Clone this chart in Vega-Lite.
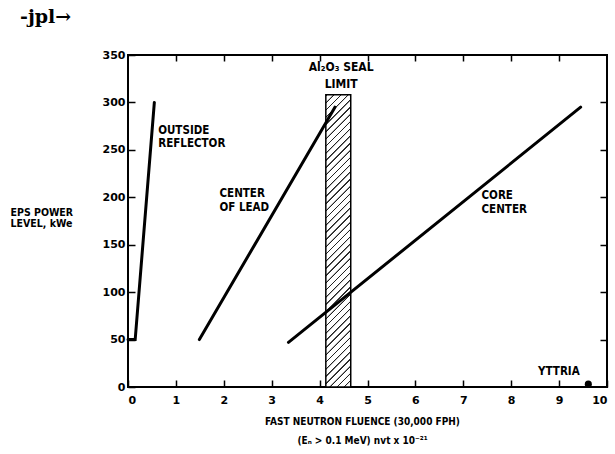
{
  "$schema": "https://vega.github.io/schema/vega-lite/v6.json",
  "width": 479,
  "height": 332,
  "autosize": {"type": "none"},
  "padding": {"left": 128, "top": 55, "right": 8, "bottom": 67},
  "background": "white",
  "title": {"text": "-jpl→", "anchor": "start", "frame": "group", "dx": -108, "offset": 22, "fontSize": 19, "fontWeight": "bold", "font": "DejaVu Serif", "color": "black"},
  "config": {
    "view": {"stroke": "black", "strokeWidth": 2},
    "axis": {"grid": false, "labelFont": "DejaVu Sans", "labelFontWeight": "bold", "labelFontSize": 11, "labelColor": "black", "tickColor": "black", "tickWidth": 1.5, "domainColor": "black", "domainWidth": 2, "titleColor": "black", "titleFont": "Liberation Sans Narrow, DejaVu Sans Condensed, sans-serif", "titleFontWeight": "bold"}
  },
  "datasets": {
    "lines": [
      {"series": "outside", "i": 0, "x": 0.0, "y": 50},
      {"series": "outside", "i": 1, "x": 0.15, "y": 50},
      {"series": "outside", "i": 2, "x": 0.55, "y": 300},
      {"series": "lead", "i": 0, "x": 1.49, "y": 50},
      {"series": "lead", "i": 1, "x": 4.32, "y": 295},
      {"series": "core", "i": 0, "x": 3.35, "y": 47},
      {"series": "core", "i": 1, "x": 9.45, "y": 295}
    ],
    "seal": [{"x1": 4.13, "x2": 4.65, "y1": 0, "y2": 308}],
    "dot": [{"x": 9.61, "y": 3}],
    "labels": [
      {"label": "OUTSIDE\nREFLECTOR", "x": 0.63, "y": 270},
      {"label": "CENTER\nOF LEAD", "x": 1.91, "y": 203},
      {"label": "CORE\nCENTER", "x": 7.38, "y": 201},
      {"label": "YTTRIA", "x": 8.56, "y": 16}
    ],
    "seallabel": [{"label": "Al₂O₃ SEAL\nLIMIT", "x": 4.45, "y": 337}]
  },
  "layer": [
    {
      "data": {"name": "seal"},
      "mark": {"type": "rect", "stroke": "black", "strokeWidth": 1.5,
        "fill": {"gradient": "linear", "x1": 0, "y1": 0, "x2": 0.0923, "y2": 1.0777, "stops": [
          {"offset": 0, "color": "#fff"}, {"offset": 0.0015, "color": "#222"}, {"offset": 0.0045, "color": "#222"}, {"offset": 0.006, "color": "#fff"},
          {"offset": 0.0227, "color": "#fff"}, {"offset": 0.0242, "color": "#222"}, {"offset": 0.0272, "color": "#222"}, {"offset": 0.0287, "color": "#fff"},
          {"offset": 0.0454, "color": "#fff"}, {"offset": 0.0469, "color": "#222"}, {"offset": 0.0499, "color": "#222"}, {"offset": 0.0514, "color": "#fff"},
          {"offset": 0.0681, "color": "#fff"}, {"offset": 0.0696, "color": "#222"}, {"offset": 0.0726, "color": "#222"}, {"offset": 0.0741, "color": "#fff"},
          {"offset": 0.0908, "color": "#fff"}, {"offset": 0.0923, "color": "#222"}, {"offset": 0.0953, "color": "#222"}, {"offset": 0.0968, "color": "#fff"},
          {"offset": 0.1135, "color": "#fff"}, {"offset": 0.115, "color": "#222"}, {"offset": 0.118, "color": "#222"}, {"offset": 0.1195, "color": "#fff"},
          {"offset": 0.1362, "color": "#fff"}, {"offset": 0.1377, "color": "#222"}, {"offset": 0.1407, "color": "#222"}, {"offset": 0.1422, "color": "#fff"},
          {"offset": 0.1589, "color": "#fff"}, {"offset": 0.1604, "color": "#222"}, {"offset": 0.1634, "color": "#222"}, {"offset": 0.1649, "color": "#fff"},
          {"offset": 0.1816, "color": "#fff"}, {"offset": 0.1831, "color": "#222"}, {"offset": 0.1861, "color": "#222"}, {"offset": 0.1876, "color": "#fff"},
          {"offset": 0.2043, "color": "#fff"}, {"offset": 0.2058, "color": "#222"}, {"offset": 0.2088, "color": "#222"}, {"offset": 0.2103, "color": "#fff"},
          {"offset": 0.227, "color": "#fff"}, {"offset": 0.2285, "color": "#222"}, {"offset": 0.2315, "color": "#222"}, {"offset": 0.233, "color": "#fff"},
          {"offset": 0.2497, "color": "#fff"}, {"offset": 0.2512, "color": "#222"}, {"offset": 0.2542, "color": "#222"}, {"offset": 0.2557, "color": "#fff"},
          {"offset": 0.2724, "color": "#fff"}, {"offset": 0.2739, "color": "#222"}, {"offset": 0.2769, "color": "#222"}, {"offset": 0.2784, "color": "#fff"},
          {"offset": 0.2951, "color": "#fff"}, {"offset": 0.2966, "color": "#222"}, {"offset": 0.2996, "color": "#222"}, {"offset": 0.3011, "color": "#fff"},
          {"offset": 0.3178, "color": "#fff"}, {"offset": 0.3193, "color": "#222"}, {"offset": 0.3223, "color": "#222"}, {"offset": 0.3238, "color": "#fff"},
          {"offset": 0.3405, "color": "#fff"}, {"offset": 0.342, "color": "#222"}, {"offset": 0.345, "color": "#222"}, {"offset": 0.3465, "color": "#fff"},
          {"offset": 0.3632, "color": "#fff"}, {"offset": 0.3647, "color": "#222"}, {"offset": 0.3677, "color": "#222"}, {"offset": 0.3692, "color": "#fff"},
          {"offset": 0.3859, "color": "#fff"}, {"offset": 0.3874, "color": "#222"}, {"offset": 0.3904, "color": "#222"}, {"offset": 0.3919, "color": "#fff"},
          {"offset": 0.4086, "color": "#fff"}, {"offset": 0.4101, "color": "#222"}, {"offset": 0.4131, "color": "#222"}, {"offset": 0.4146, "color": "#fff"},
          {"offset": 0.4313, "color": "#fff"}, {"offset": 0.4328, "color": "#222"}, {"offset": 0.4358, "color": "#222"}, {"offset": 0.4373, "color": "#fff"},
          {"offset": 0.454, "color": "#fff"}, {"offset": 0.4555, "color": "#222"}, {"offset": 0.4585, "color": "#222"}, {"offset": 0.46, "color": "#fff"},
          {"offset": 0.4767, "color": "#fff"}, {"offset": 0.4782, "color": "#222"}, {"offset": 0.4812, "color": "#222"}, {"offset": 0.4827, "color": "#fff"},
          {"offset": 0.4994, "color": "#fff"}, {"offset": 0.5009, "color": "#222"}, {"offset": 0.5039, "color": "#222"}, {"offset": 0.5054, "color": "#fff"},
          {"offset": 0.5221, "color": "#fff"}, {"offset": 0.5236, "color": "#222"}, {"offset": 0.5266, "color": "#222"}, {"offset": 0.5281, "color": "#fff"},
          {"offset": 0.5448, "color": "#fff"}, {"offset": 0.5463, "color": "#222"}, {"offset": 0.5493, "color": "#222"}, {"offset": 0.5508, "color": "#fff"},
          {"offset": 0.5675, "color": "#fff"}, {"offset": 0.569, "color": "#222"}, {"offset": 0.572, "color": "#222"}, {"offset": 0.5735, "color": "#fff"},
          {"offset": 0.5902, "color": "#fff"}, {"offset": 0.5917, "color": "#222"}, {"offset": 0.5947, "color": "#222"}, {"offset": 0.5962, "color": "#fff"},
          {"offset": 0.6129, "color": "#fff"}, {"offset": 0.6144, "color": "#222"}, {"offset": 0.6174, "color": "#222"}, {"offset": 0.6189, "color": "#fff"},
          {"offset": 0.6356, "color": "#fff"}, {"offset": 0.6371, "color": "#222"}, {"offset": 0.6401, "color": "#222"}, {"offset": 0.6416, "color": "#fff"},
          {"offset": 0.6583, "color": "#fff"}, {"offset": 0.6598, "color": "#222"}, {"offset": 0.6628, "color": "#222"}, {"offset": 0.6643, "color": "#fff"},
          {"offset": 0.681, "color": "#fff"}, {"offset": 0.6825, "color": "#222"}, {"offset": 0.6855, "color": "#222"}, {"offset": 0.687, "color": "#fff"},
          {"offset": 0.7037, "color": "#fff"}, {"offset": 0.7052, "color": "#222"}, {"offset": 0.7082, "color": "#222"}, {"offset": 0.7097, "color": "#fff"},
          {"offset": 0.7264, "color": "#fff"}, {"offset": 0.7279, "color": "#222"}, {"offset": 0.7309, "color": "#222"}, {"offset": 0.7324, "color": "#fff"},
          {"offset": 0.7491, "color": "#fff"}, {"offset": 0.7506, "color": "#222"}, {"offset": 0.7536, "color": "#222"}, {"offset": 0.7551, "color": "#fff"},
          {"offset": 0.7718, "color": "#fff"}, {"offset": 0.7733, "color": "#222"}, {"offset": 0.7763, "color": "#222"}, {"offset": 0.7778, "color": "#fff"},
          {"offset": 0.7945, "color": "#fff"}, {"offset": 0.796, "color": "#222"}, {"offset": 0.799, "color": "#222"}, {"offset": 0.8005, "color": "#fff"},
          {"offset": 0.8172, "color": "#fff"}, {"offset": 0.8187, "color": "#222"}, {"offset": 0.8217, "color": "#222"}, {"offset": 0.8232, "color": "#fff"},
          {"offset": 0.8399, "color": "#fff"}, {"offset": 0.8414, "color": "#222"}, {"offset": 0.8444, "color": "#222"}, {"offset": 0.8459, "color": "#fff"},
          {"offset": 0.8626, "color": "#fff"}, {"offset": 0.8641, "color": "#222"}, {"offset": 0.8671, "color": "#222"}, {"offset": 0.8686, "color": "#fff"},
          {"offset": 0.8853, "color": "#fff"}, {"offset": 0.8868, "color": "#222"}, {"offset": 0.8898, "color": "#222"}, {"offset": 0.8913, "color": "#fff"},
          {"offset": 0.908, "color": "#fff"}, {"offset": 0.9095, "color": "#222"}, {"offset": 0.9125, "color": "#222"}, {"offset": 0.914, "color": "#fff"},
          {"offset": 0.9307, "color": "#fff"}, {"offset": 0.9322, "color": "#222"}, {"offset": 0.9352, "color": "#222"}, {"offset": 0.9367, "color": "#fff"},
          {"offset": 0.9534, "color": "#fff"}, {"offset": 0.9549, "color": "#222"}, {"offset": 0.9579, "color": "#222"}, {"offset": 0.9594, "color": "#fff"},
          {"offset": 0.9761, "color": "#fff"}, {"offset": 0.9776, "color": "#222"}, {"offset": 0.9806, "color": "#222"}, {"offset": 0.9821, "color": "#fff"},
          {"offset": 1, "color": "#fff"}
        ]}},
      "encoding": {
        "x": {"field": "x1", "type": "quantitative", "scale": {"domain": [0, 10], "nice": false}, "axis": {"orient": "top", "values": [1, 2, 3, 4, 5, 6, 7, 8, 9], "tickSize": -6, "labels": false, "domain": false, "title": null}},
        "x2": {"field": "x2"},
        "y": {"field": "y1", "type": "quantitative", "scale": {"domain": [0, 350], "nice": false}, "axis": {"orient": "right", "values": [50, 100, 150, 200, 250, 300], "tickSize": -7, "labels": false, "domain": false, "title": null}},
        "y2": {"field": "y2"}
      }
    },
    {
      "data": {"name": "lines"},
      "mark": {"type": "line", "color": "black", "strokeWidth": 3, "strokeCap": "round"},
      "encoding": {
        "x": {"field": "x", "type": "quantitative", "axis": {"orient": "bottom", "values": [0, 1, 2, 3, 4, 5, 6, 7, 8, 9, 10], "tickSize": -7, "labelPadding": 14, "domain": false,
          "title": ["FAST NEUTRON FLUENCE (30,000 FPH)", "(Eₙ > 0.1 MeV) nvt x 10⁻²¹"], "titleFontSize": 10, "titleLineHeight": 19, "titleAnchor": "start", "titleAlign": "center", "titleX": 234, "titleY": 29, "titleBaseline": "top"}},
        "y": {"field": "y", "type": "quantitative", "axis": {"orient": "left", "values": [0, 50, 100, 150, 200, 250, 300, 350], "tickSize": -7, "labelPadding": 10, "domain": false,
          "title": ["EPS POWER", "LEVEL, kWe"], "titleAngle": 0, "titleFontSize": 10.5, "titleLineHeight": 11.5, "titleAlign": "left", "titleAnchor": "start", "titleX": -118, "titleY": 157, "titleBaseline": "middle"}},
        "detail": {"field": "series"},
        "order": {"field": "i"}
      }
    },
    {
      "data": {"name": "dot"},
      "mark": {"type": "point", "filled": true, "color": "black", "size": 50, "opacity": 1},
      "encoding": {
        "x": {"field": "x", "type": "quantitative", "axis": null},
        "y": {"field": "y", "type": "quantitative", "axis": null}
      }
    },
    {
      "data": {"name": "labels"},
      "mark": {"type": "text", "align": "left", "baseline": "middle", "lineBreak": "\n", "lineHeight": 13.5, "font": "Liberation Sans Narrow, DejaVu Sans Condensed, sans-serif", "fontWeight": "bold", "fontSize": 11.5, "color": "black"},
      "encoding": {
        "x": {"field": "x", "type": "quantitative", "axis": null},
        "y": {"field": "y", "type": "quantitative", "axis": null},
        "text": {"field": "label"}
      }
    },
    {
      "data": {"name": "seallabel"},
      "mark": {"type": "text", "align": "center", "baseline": "middle", "lineBreak": "\n", "lineHeight": 17, "font": "Liberation Sans Narrow, DejaVu Sans Condensed, sans-serif", "fontWeight": "bold", "fontSize": 12, "color": "black"},
      "encoding": {
        "x": {"field": "x", "type": "quantitative", "axis": null},
        "y": {"field": "y", "type": "quantitative", "axis": null},
        "text": {"field": "label"}
      }
    }
  ]
}
